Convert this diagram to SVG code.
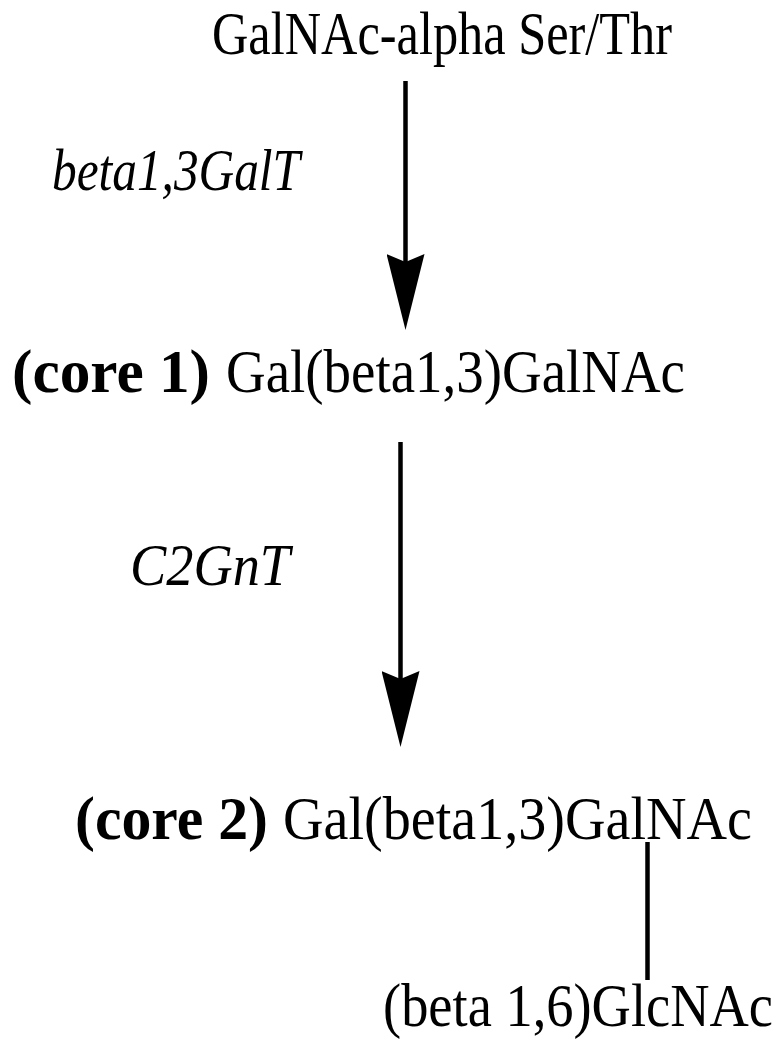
<svg xmlns="http://www.w3.org/2000/svg" width="780" height="1042" viewBox="0 0 780 1042">
<style>
text{font-family:"Liberation Serif","Times New Roman",serif;font-size:62px;fill:#000}
.b{font-weight:bold}
.i{font-style:italic;font-size:60px}
.line{stroke:#000;stroke-width:4.5;fill:none}
.arrow{marker-end:url(#ah)}
</style>
<defs>
<marker id="ah" markerUnits="userSpaceOnUse" markerWidth="76" markerHeight="38" refX="64" refY="19" orient="auto" viewBox="0 0 76 38">
<path d="M0,0 L8,19 L0,38 L76,19 Z" fill="#000"/>
</marker>
</defs>
<rect width="780" height="1042" fill="#fff"/>
<g id="connectors">
<line class="line arrow" x1="405.5" y1="81" x2="405.5" y2="318"/>
<line class="line arrow" x1="400.5" y1="442" x2="400.5" y2="735"/>
<line class="line" x1="647.5" y1="842" x2="647.5" y2="980"/>
</g>
<g id="node-galnac">
<text x="212" y="54" textLength="460" lengthAdjust="spacingAndGlyphs">GalNAc-alpha Ser/Thr</text>
</g>
<g id="label-galt">
<text class="i" x="52" y="190" textLength="248" lengthAdjust="spacingAndGlyphs">beta1,3GalT</text>
</g>
<g id="node-core1">
<text class="b" x="12" y="392" textLength="198" lengthAdjust="spacingAndGlyphs">(core 1)</text>
<text x="226" y="392" textLength="459" lengthAdjust="spacingAndGlyphs">Gal(beta1,3)GalNAc</text>
</g>
<g id="label-c2gnt">
<text class="i" x="130" y="585" textLength="160" lengthAdjust="spacingAndGlyphs">C2GnT</text>
</g>
<g id="node-core2">
<text class="b" x="75" y="839" textLength="193" lengthAdjust="spacingAndGlyphs">(core 2)</text>
<text x="283" y="839" textLength="469" lengthAdjust="spacingAndGlyphs">Gal(beta1,3)GalNAc</text>
</g>
<g id="node-glcnac">
<text x="383" y="1026" textLength="390" lengthAdjust="spacingAndGlyphs">(beta 1,6)GlcNAc</text>
</g>
</svg>
